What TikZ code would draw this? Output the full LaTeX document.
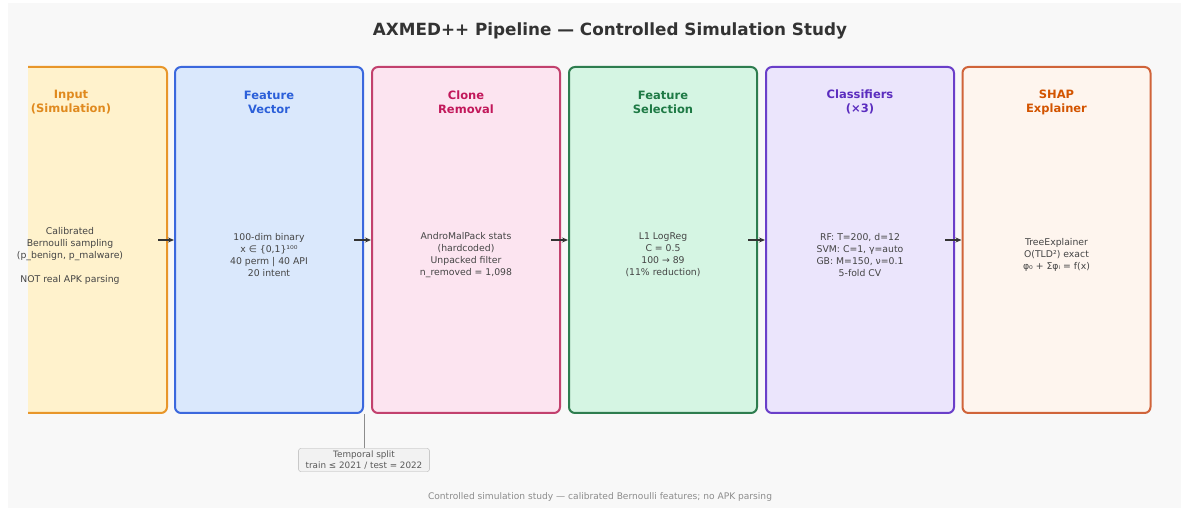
\documentclass[tikz,border=0pt]{standalone}
\usepackage{fontspec}
\setmainfont{DejaVu Sans}
\usetikzlibrary{arrows.meta}
\definecolor{bg}{HTML}{F8F8F8}
\definecolor{fA}{HTML}{FFF2CC}\definecolor{dA}{HTML}{E8962A}\definecolor{tA}{HTML}{E08A1E}
\definecolor{fB}{HTML}{DAE8FC}\definecolor{dB}{HTML}{3B68DD}\definecolor{tB}{HTML}{2B5FD9}
\definecolor{fC}{HTML}{FCE4F0}\definecolor{dC}{HTML}{C2416E}\definecolor{tC}{HTML}{C2185B}
\definecolor{fD}{HTML}{D5F5E3}\definecolor{dD}{HTML}{2E7D4F}\definecolor{tD}{HTML}{1E7A45}
\definecolor{fE}{HTML}{EBE5FC}\definecolor{dE}{HTML}{6A3FC9}\definecolor{tE}{HTML}{5B2DBF}
\definecolor{fF}{HTML}{FEF5EE}\definecolor{dF}{HTML}{D0643A}\definecolor{tF}{HTML}{D35400}
\definecolor{bodyc}{HTML}{333333}
\definecolor{textc}{HTML}{444444}
\tikzset{
  x=1pt,y=1pt,
  stagebox/.style={draw, rounded corners=6pt, line width=2pt, minimum width=188pt, minimum height=346pt, inner sep=0pt},
  stagetitle/.style={font=\fontsize{11.5}{14}\selectfont\bfseries, align=center},
  stagebody/.style={font=\fontsize{9.3}{12}\selectfont, align=center, text=textc},
  arr/.style={-{Stealth[length=6pt,width=5pt]}, line width=1.6pt, draw=bodyc},
}
\begin{document}
\begin{tikzpicture}
\fill[white] (0,0) rectangle (1189,508);
\fill[bg] (8,0) rectangle (1181,505);
\useasboundingbox (0,0) rectangle (1189,508);
\node[font=\fontsize{16.8}{19}\selectfont\bfseries, text=bodyc] (title) at (610,477) {AXMED++ Pipeline — Controlled Simulation Study};
\begin{scope}
\clip (28,0) rectangle (1189,508);
\node[stagebox, fill=fA, draw=dA] (b1) at (73,268) {};
\end{scope}
\node[stagebox, fill=fB, draw=dB] (b2) at (269,268) {};
\node[stagebox, fill=fC, draw=dC] (b3) at (466,268) {};
\node[stagebox, fill=fD, draw=dD] (b4) at (663,268) {};
\node[stagebox, fill=fE, draw=dE] (b5) at (860,268) {};
\node[stagebox, fill=fF, draw=dF] (b6) at (1056.5,268) {};
\node[stagetitle, text=tA] (t1) at (71,406) {Input\\(Simulation)};
\node[stagetitle, text=tB] (t2) at (269,406) {Feature\\Vector};
\node[stagetitle, text=tC] (t3) at (466,406) {Clone\\Removal};
\node[stagetitle, text=tD] (t4) at (663,406) {Feature\\Selection};
\node[stagetitle, text=tE] (t5) at (860,406) {Classifiers\\(×3)};
\node[stagetitle, text=tF] (t6) at (1056.5,406) {SHAP\\Explainer};
\node[stagebody] (c1) at (70,252) {Calibrated\\Bernoulli sampling\\(p\_benign, p\_malware)\\[12pt]NOT real APK parsing};
\node[stagebody] (c2) at (269,253) {100-dim binary\\x ∈ \{0,1\}¹⁰⁰\\40 perm | 40 API\\20 intent};
\node[stagebody] (c3) at (466,253) {AndroMalPack stats\\(hardcoded)\\Unpacked filter\\n\_removed = 1,098};
\node[stagebody] (c4) at (663,253) {L1 LogReg\\C = 0.5\\100 → 89\\(11\% reduction)};
\node[stagebody] (c5) at (860,253) {RF: T=200, d=12\\SVM: C=1, γ=auto\\GB: M=150, ν=0.1\\5-fold CV};
\node[stagebody] (c6) at (1056.5,253) {TreeExplainer\\O(TLD²) exact\\φ₀ + Σφᵢ = f(x)};
\draw[arr] ([xshift=-10pt]b1.east) -- (b2.west);
\draw[arr] ([xshift=-10pt]b2.east) -- (b3.west);
\draw[arr] ([xshift=-10pt]b3.east) -- (b4.west);
\draw[arr] ([xshift=-10pt]b4.east) -- (b5.west);
\draw[arr] ([xshift=-10pt]b5.east) -- (b6.west);
\node[draw=black!30, fill=black!5, rounded corners=2pt, font=\fontsize{8.8}{10.5}\selectfont, text=black!65, align=center, inner xsep=7pt, inner ysep=2.5pt] (split) at (364,48) {Temporal split\\train ≤ 2021 / test = 2022};
\draw[black!45, line width=0.8pt] (b2.south east) -- (split.north);
\node[font=\fontsize{9.1}{11}\selectfont, text=black!45] (foot) at (600,11) {Controlled simulation study — calibrated Bernoulli features; no APK parsing};
\end{tikzpicture}
\end{document}
